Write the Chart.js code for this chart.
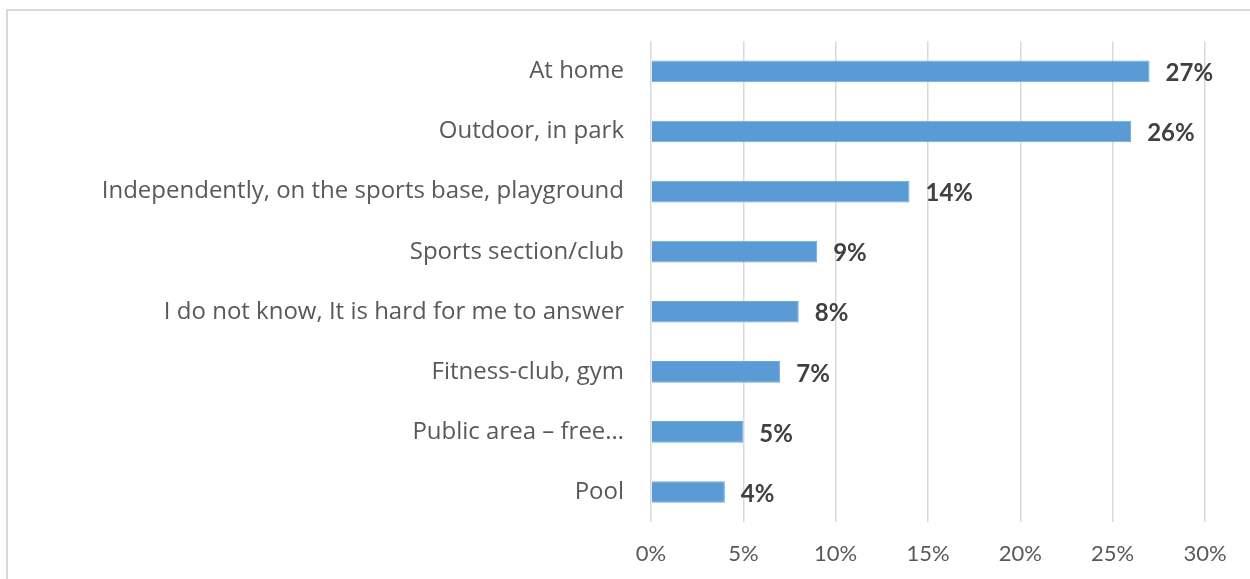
<!DOCTYPE html>
<html>
<head>
<meta charset="utf-8">
<script src="https://cdn.jsdelivr.net/npm/chart.js@4/dist/chart.umd.min.js"></script>
<style>
  html, body { margin: 0; padding: 0; background: #fff; overflow: hidden; }
  .frame { position: absolute; left: 6px; top: 9px; width: 1300px; height: 620px;
           border-left: 2px solid #d9d9d9; border-top: 2px solid #d9d9d9; }
  .wrap { position: absolute; left: 0; top: 0; width: 1250px; height: 579px; }
</style>
</head>
<body>
<div class="frame"></div>
<div class="wrap"><canvas id="chart"></canvas></div>
<script>
const categories = [
  'At home',
  'Outdoor, in park',
  'Independently, on the sports base, playground',
  'Sports section/club',
  'I do not know, It is hard for me to answer',
  'Fitness-club, gym',
  'Public area \u2013 free\u2026',
  'Pool'
];
const shares = [27, 26, 14, 9, 8, 7, 5, 4];
const xTicks = [0, 5, 10, 15, 20, 25, 30];

const LABEL_FONT = '"Open Sans", Lato, sans-serif';
const FONT = 'Lato, "Open Sans", sans-serif';

// value labels drawn right of each bar
const valueLabels = {
  id: 'valueLabels',
  afterDatasetsDraw(chart) {
    const ctx = chart.ctx;
    const meta = chart.getDatasetMeta(0);
    ctx.save();
    ctx.font = 'bold 24px ' + FONT;
    ctx.fillStyle = '#404040';
    ctx.textAlign = 'left';
    ctx.textBaseline = 'middle';
    meta.data.forEach((bar, i) => {
      ctx.fillText(shares[i] + '%', bar.x + 16, bar.y + 2);
    });
    ctx.restore();
  }
};

new Chart(document.getElementById('chart'), {
  type: 'bar',
  data: {
    labels: categories,
    datasets: [{
      data: shares,
      backgroundColor: '#5b9bd5',
      borderColor: '#6fa8dc',
      borderWidth: 1,
      barPercentage: 0.36,
      categoryPercentage: 1
    }]
  },
  options: {
    indexAxis: 'y',
    responsive: true,
    maintainAspectRatio: false,
    animation: false,
    layout: { padding: { top: 38, right: 45, left: 0, bottom: 0 } },
    plugins: { legend: { display: false }, tooltip: { enabled: false } },
    scales: {
      x: {
        min: 0, max: 30,
        afterBuildTicks: s => { s.ticks = xTicks.map(v => ({ value: v })); },
        afterFit: s => { s.height = 579 - 38 - 484; },
        grid: { color: '#d9d9d9', lineWidth: 1.5, drawTicks: false },
        border: { display: false },
        ticks: {
          color: '#595959', padding: 19,
          font: { family: FONT, size: 22 },
          callback: v => v + '%'
        }
      },
      y: {
        afterFit: s => { s.width = 651; },
        grid: { display: false, drawTicks: false },
        border: { display: false },
        ticks: {
          color: '#595959', padding: 27,
          font: { family: LABEL_FONT, size: 24 }
        }
      }
    }
  },
  plugins: [valueLabels]
});
</script>
</body>
</html>
